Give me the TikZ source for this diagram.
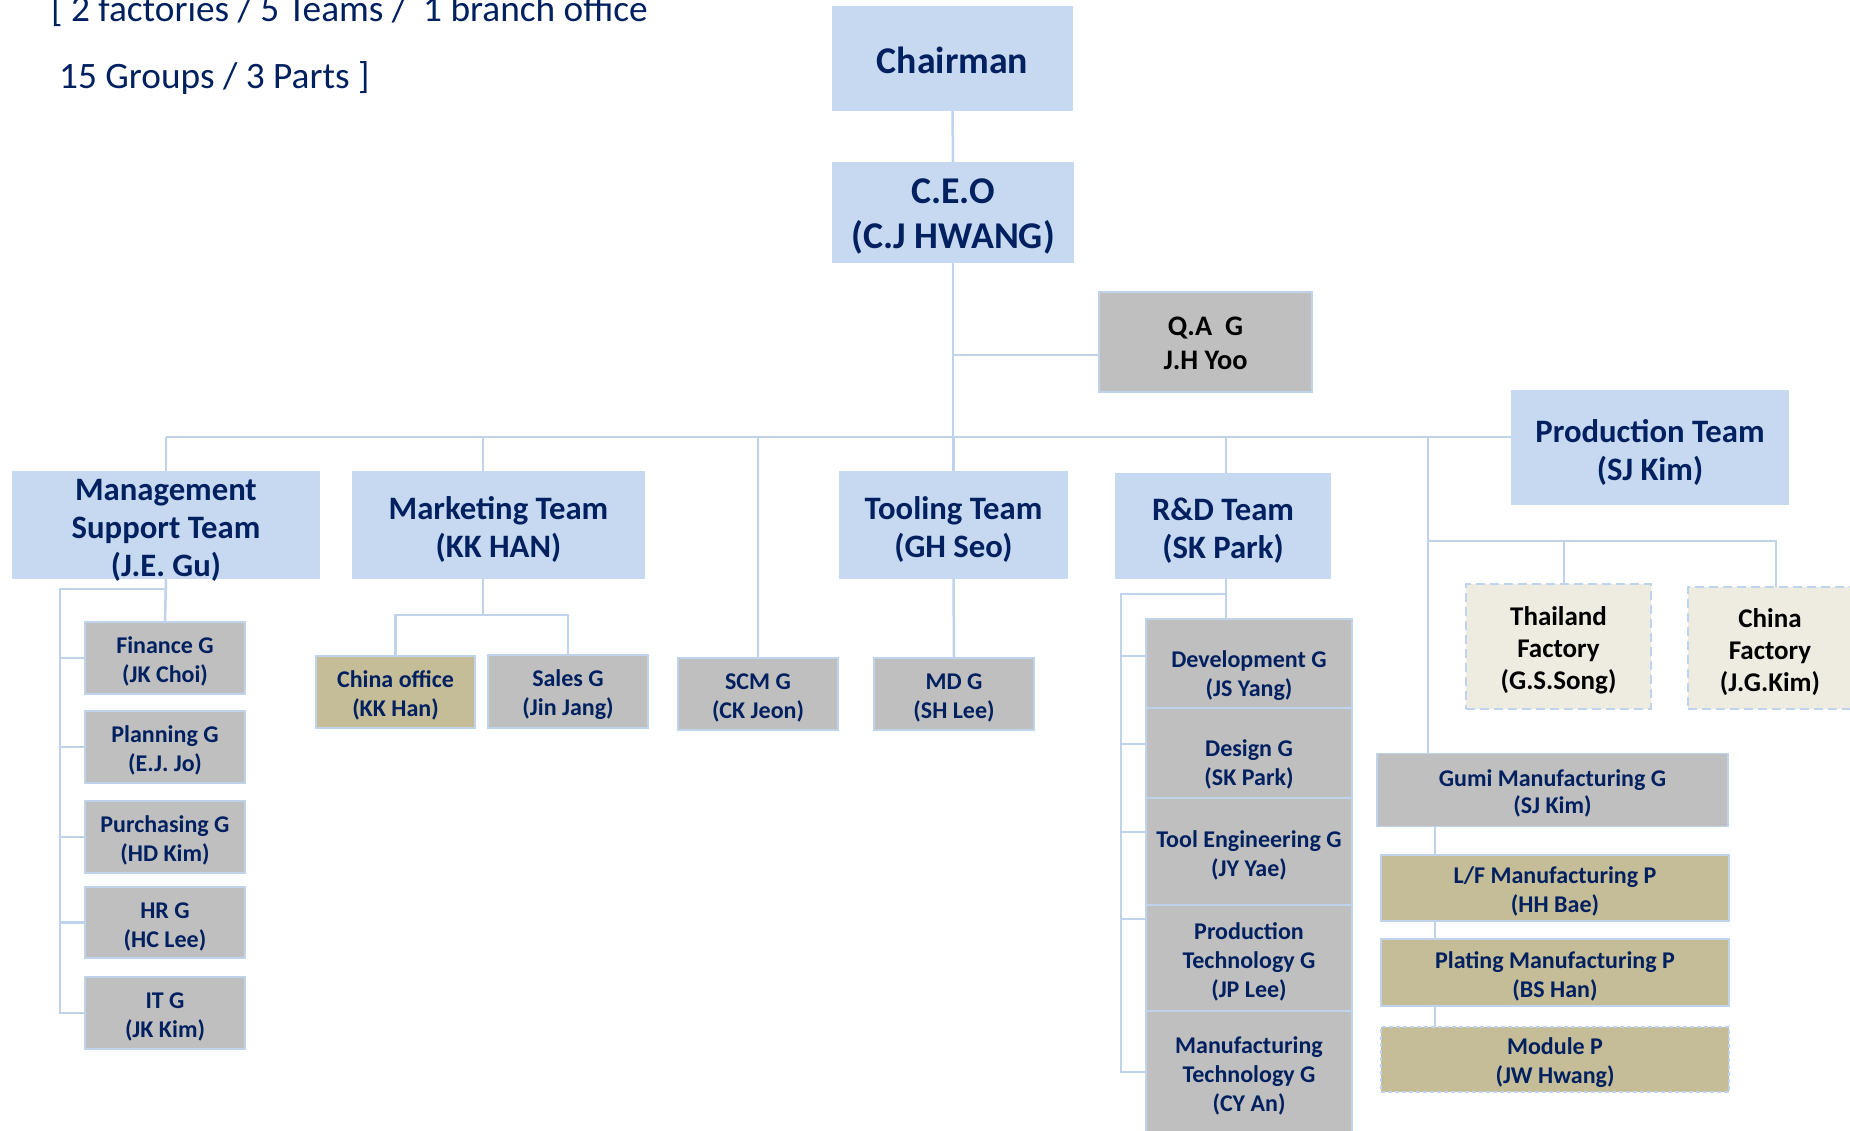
\documentclass[tikz,border=0pt]{standalone}
\usepackage{fontspec}
\setmainfont{Carlito}
\usetikzlibrary{backgrounds,calc}
\definecolor{teamfill}{HTML}{C6D9F1}
\definecolor{lineblue}{HTML}{C0D3ED}
\definecolor{grpfill}{HTML}{BFBFBF}
\definecolor{tanfill}{HTML}{C4BD97}
\definecolor{beigefill}{HTML}{EEECE1}
\definecolor{navy}{HTML}{002060}
\newcommand\ts{\rule{0pt}{1em}}
\newcommand\tsx[1]{\rule{0pt}{#1}}
\begin{document}
\begin{tikzpicture}[x=1pt,y=-1pt,
  sz/.style 2 args={minimum width=#1pt, minimum height=#2pt},
  base/.style={draw=lineblue, line width=1.5pt, inner sep=0pt, outer sep=0pt, align=center, text=navy},
  team/.style={base, fill=teamfill, draw=teamfill, font=\bfseries\fontsize{32.7}{38}\selectfont},
  big/.style={base, fill=teamfill, draw=teamfill, font=\bfseries\fontsize{37.8}{45}\selectfont},
  grp/.style={base, fill=grpfill, font=\bfseries\fontsize{24}{29}\selectfont},
  tanbox/.style={grp, fill=tanfill},
  fact/.style={base, fill=beigefill, line width=2pt, dash pattern=on 9pt off 5pt, text=black, font=\bfseries\fontsize{27}{32}\selectfont},
  conn/.style={draw=lineblue, line width=2.5pt},
  title/.style={anchor=base west, inner sep=0pt, text=navy, font=\fontsize{37.3}{44}\selectfont}
]
\useasboundingbox (0,0) rectangle (1850,1130);

% title
\node[title] (t1) at (51,21) {[ 2 factories / 5 Teams /~ 1 branch office};
\node[title] (t2) at (59,88) {15 Groups / 3 Parts ]};

% top
\node[big, sz={240}{103}] (chair) at (952.5,58.5) {\tsx{0.78em}Chairman};
\node[big, sz={240}{99}] (ceo) at (953,212.5) {\tsx{0.87em}C.E.O\\(C.J HWANG)};
\node[grp, sz={213}{100}, text=black, font=\bfseries\fontsize{28.3}{33.5}\selectfont] (qa) at (1205.5,342) {\tsx{0.75em}Q.A~~G\\J.H Yoo};

% teams
\node[team, sz={306}{106}] (mgmt) at (166,525) {\tsx{0.8em}Management\\Support Team\\\smash{(J.E. Gu)}};
\node[team, sz={291}{106}] (mkt) at (498.5,525) {\ts Marketing Team\\(KK HAN)};
\node[team, sz={227}{106}] (tool) at (953.5,525) {\ts Tooling Team\\(GH Seo)};
\node[team, sz={214}{104}] (rd) at (1223,526) {\ts R\&D Team\\(SK Park)};
\node[team, sz={276}{113}] (prod) at (1650,447.5) {\ts Production Team\\(SJ Kim)};

% management groups
\node[grp, sz={160}{72}] (fin) at (165,658) {\ts Finance G\\(JK Choi)};
\node[grp, sz={160}{72}] (plan) at (165,747) {\ts Planning G\\(E.J. Jo)};
\node[grp, sz={160}{72}] (pur) at (165,837) {\ts Purchasing G\\(HD Kim)};
\node[grp, sz={160}{71}] (hr) at (165,922.5) {\ts HR G\\(HC Lee)};
\node[grp, sz={160}{72}] (it) at (165,1013) {\ts IT G\\(JK Kim)};

% marketing
\node[tanbox, sz={159}{72}] (chof) at (395.5,692) {\ts China office\\(KK Han)};
\node[grp, sz={160}{73}] (sales) at (568,691.5) {\ts Sales G\\(Jin Jang)};

% scm, md
\node[grp, sz={160}{72}] (scm) at (758,694) {\ts SCM G\\(CK Jeon)};
\node[grp, sz={160}{72}] (md) at (954,694) {\ts MD G\\(SH Lee)};

% R&D groups
\node[grp, sz={206}{89}] (dev) at (1249,663.5) {\tsx{42pt}Development G\\(JS Yang)};
\node[grp, sz={206}{90}] (des) at (1249,753) {\tsx{40pt}Design G\\(SK Park)};
\node[grp, sz={206}{107}] (teng) at (1249,851.5) {\ts Tool Engineering G\\(JY Yae)};
\node[grp, sz={206}{106}] (ptech) at (1249,958) {\ts Production\\Technology G\\(JP Lee)};
\node[grp, sz={206}{122}] (mtech) at (1249,1072) {\ts Manufacturing\\Technology G\\(CY An)};

% production
\node[fact, sz={185}{125}] (thai) at (1558.5,646.5) {\ts Thailand\\Factory\\(G.S.Song)};
\node[fact, sz={164}{122}] (china) at (1770,648) {\ts China\\Factory\\(J.G.Kim)};
\node[grp, sz={351}{73}, font=\bfseries\fontsize{24}{27}\selectfont] (gumi) at (1552.5,790) {\ts Gumi Manufacturing G\\(SJ Kim)};
\node[tanbox, sz={348}{66}] (lf) at (1555,888) {\ts L/F Manufacturing P\\(HH Bae)};
\node[tanbox, sz={348}{67}] (plat) at (1555,972.5) {\ts Plating Manufacturing P\\(BS Han)};
\node[tanbox, sz={348}{65}, dash pattern=on 4pt off 3pt] (mod) at (1555,1059.5) {\ts Module P\\(JW Hwang)};

\begin{scope}[on background layer]
\fill[white] (0,0) rectangle (1850,1130);
\coordinate (bus) at (0,437);
\draw[conn] (chair.south) -- (ceo.north);
\draw[conn] (ceo.south) -- (ceo.south |- bus);
\coordinate (qaj) at (952,355);
\draw[conn] (qaj) -- (qa.west |- qaj);
\draw[conn] (mgmt.north |- bus) -- (prod.west |- bus);
\draw[conn] (mgmt.north |- bus) -- (mgmt.north);
\coordinate (mkx) at (483,437);
\draw[conn] (mkx) -- (mkx |- mkt.north);
\draw[conn] (scm.north |- bus) -- (scm.north);
\draw[conn] (tool.north |- bus) -- (tool.north);
\coordinate (rdx) at (1226,437);
\draw[conn] (rdx) -- (rdx |- rd.north);
\coordinate (pvx) at (1428,437);
\draw[conn] (pvx) -- (pvx |- gumi.north);
% management
\coordinate (ml) at (60,589);
\draw[conn] (mgmt.south) -- (fin.north);
\draw[conn] (mgmt.south |- ml) -- (ml) -- (ml |- it.west) -- (it.west);
\foreach \n in {fin,plan,pur,hr} \draw[conn] (ml |- \n.west) -- (\n.west);
% marketing
\coordinate (mkb) at (483,615);
\draw[conn] (mkb |- mkt.south) -- (mkb);
\draw[conn] (chof.north) -- (chof.north |- mkb) -- (sales.north |- mkb) -- (sales.north);
% tooling
\draw[conn] (tool.south) -- (md.north);
% R&D
\coordinate (rl) at (1121,594);
\draw[conn] (rdx |- rd.south) -- (rdx |- dev.north);
\draw[conn] (rdx |- rl) -- (rl) -- (rl |- 0,1072) -- (mtech.west |- 0,1072);
\foreach \n/\y in {dev/656,des/744,teng/832,ptech/919} \draw[conn] (rl |- 0,\y) -- (\n.west |- 0,\y);
% production
\coordinate (pb) at (1428,541);
\coordinate (thx) at (1564,541);
\coordinate (chx) at (1776,541);
\draw[conn] (pb) -- (chx) -- (chx |- china.north);
\draw[conn] (thx) -- (thx |- thai.north);
\coordinate (gx) at (1435,0);
\draw[conn] (gx |- gumi.south) -- (gx |- mod.north);
\end{scope}
\end{tikzpicture}
\end{document}
